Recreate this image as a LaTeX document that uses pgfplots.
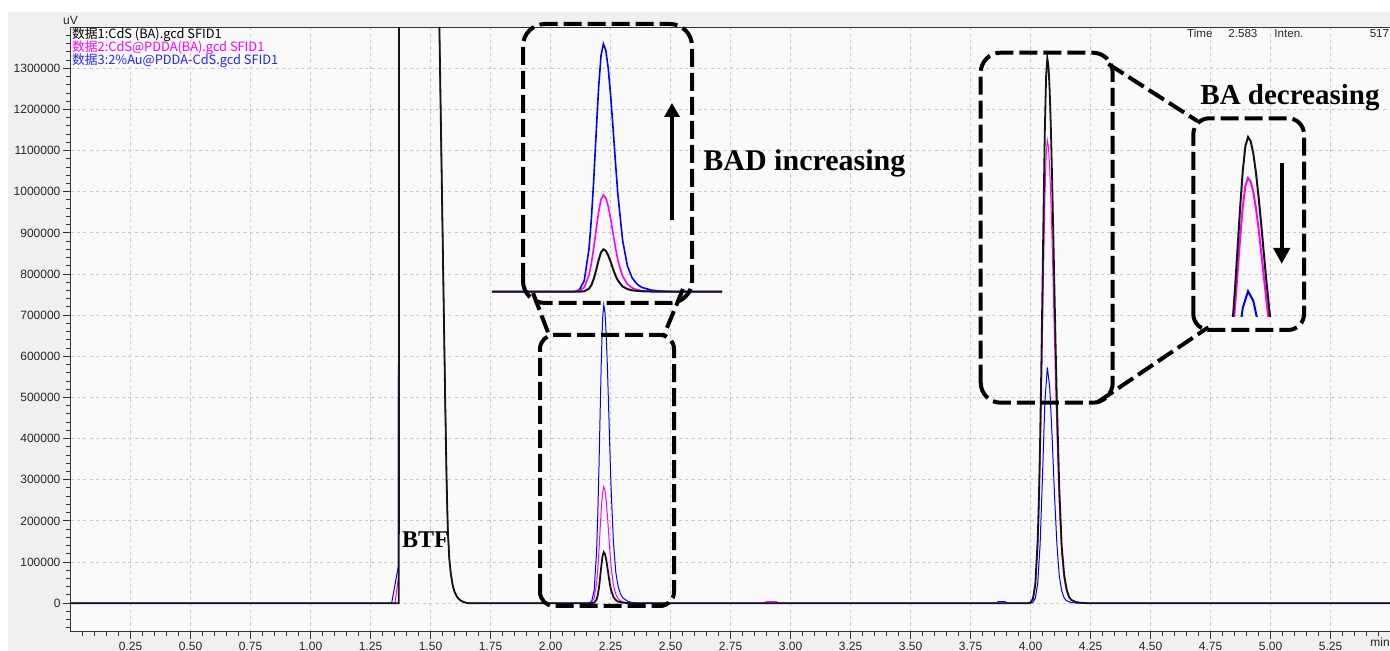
\documentclass[border=0pt]{standalone}
\usepackage{fontspec}
\setmainfont{Liberation Sans}
\newfontfamily\annfont{Liberation Serif}
\newfontfamily\cjk{Noto Sans CJK SC}
\usepackage{pgfplots}
\usepackage{pgfplotstable}
\pgfplotsset{compat=1.18}
\usetikzlibrary{arrows.meta}

\definecolor{panel}{HTML}{F0F0F0}
\definecolor{plotbg}{HTML}{FAFAFA}
\definecolor{gridc}{HTML}{C8C8C8}
\definecolor{cblue}{HTML}{0000FF}
\definecolor{cmag}{HTML}{FF00FF}
\definecolor{cblk}{HTML}{151515}

% 数据1: CdS (BA)
\pgfplotstableread{
x y
0 0
1.368 0
1.369 1600000
1.535 1600000
1.537 1400000
1.545 1100000
1.553 800000
1.561 500000
1.567 300000
1.572 180000
1.578 110000
1.585 70000
1.593 42000
1.600 28000
1.610 16000
1.620 9000
1.630 5000
1.640 2500
1.650 800
1.660 0
2.172 0
2.182 1100
2.192 8700
2.197 19500
2.202 38000
2.207 63700
2.212 92200
2.217 115200
2.222 124000
2.227 119300
2.232 106300
2.237 87600
2.242 66900
2.247 47300
2.252 33000
2.262 15000
2.272 7500
2.282 3800
2.302 1200
2.332 0
3.990 0
4.000 1800
4.010 10600
4.020 46000
4.030 154500
4.035 256000
4.040 396000
4.045 572600
4.050 774500
4.055 979400
4.060 1158600
4.065 1281000
4.070 1325000
4.075 1304500
4.080 1244000
4.085 1151000
4.090 1032000
4.095 897000
4.100 755000
4.105 616000
4.110 487500
4.120 277700
4.130 139600
4.140 70000
4.150 35000
4.160 16000
4.170 8000
4.190 2500
4.220 500
4.240 0
5.510 0
}\blackdata

% 数据2: CdS@PDDA (BA)
\pgfplotstableread{
x y
0 0
1.352 0
1.366 60000
1.368 1600000
1.535 1600000
1.537 1400000
1.545 1100000
1.553 800000
1.561 500000
1.567 300000
1.572 180000
1.578 110000
1.585 70000
1.593 42000
1.600 28000
1.610 16000
1.620 9000
1.630 5000
1.640 2500
1.650 800
1.660 0
2.162 0
2.172 2100
2.182 12400
2.192 48700
2.197 83500
2.202 129600
2.207 182500
2.212 232900
2.217 269400
2.222 283000
2.227 274300
2.232 249700
2.237 213600
2.242 171600
2.247 129600
2.252 92000
2.262 45000
2.272 22000
2.282 11000
2.292 5500
2.302 3000
2.322 1000
2.352 0
2.890 0
2.900 4000
2.940 4000
2.950 0
3.990 0
4.000 1500
4.010 9000
4.020 39000
4.030 131000
4.035 217000
4.040 336000
4.045 486000
4.050 657500
4.055 831500
4.060 983700
4.065 1087600
4.070 1125000
4.075 1107500
4.080 1056000
4.085 977000
4.090 876000
4.095 761500
4.100 641000
4.105 523000
4.110 414000
4.120 235800
4.130 118500
4.140 59400
4.150 29700
4.160 13600
4.170 6800
4.190 2100
4.220 400
4.240 0
5.510 0
}\magdata

% 数据3: 2%Au@PDDA-CdS
\pgfplotstableread{
x y
0 0
1.338 0
1.366 90000
1.368 1600000
1.535 1600000
1.537 1400000
1.545 1100000
1.553 800000
1.561 500000
1.567 300000
1.572 180000
1.578 110000
1.585 70000
1.593 42000
1.600 28000
1.610 16000
1.620 9000
1.630 5000
1.640 2500
1.650 800
1.660 0
2.162 0
2.172 5500
2.182 31800
2.192 125000
2.197 214000
2.202 332000
2.207 467500
2.212 596500
2.217 690500
2.222 725000
2.227 706500
2.232 654000
2.237 575000
2.242 479700
2.247 380000
2.252 286000
2.262 150000
2.272 75000
2.282 40000
2.292 22000
2.302 12500
2.322 4500
2.342 1500
2.372 0
2.890 0
2.900 3000
2.940 3000
2.950 0
3.860 0
3.865 4000
3.895 4000
3.900 0
4.000 0
4.010 2200
4.020 12000
4.030 48500
4.040 142900
4.050 309000
4.060 491000
4.070 573000
4.080 525400
4.090 405000
4.100 262400
4.110 142800
4.120 65500
4.130 30000
4.140 13000
4.150 6000
4.170 1500
4.200 0
5.510 0
}\bluedata

\begin{document}
\begin{tikzpicture}
% window panel
\fill[white] (-35.25pt,-9.5pt) rectangle (659.75pt,316pt);
\fill[panel] (-31.1pt,-9.5pt) rectangle (659.75pt,310pt);
\useasboundingbox (-35.25pt,-9.5pt) rectangle (659.75pt,316pt);

% main chromatogram
\begin{axis}[
  at={(0pt,0pt)}, anchor=south west,
  scale only axis, width=661.2pt, height=302.4pt,
  xmin=0, xmax=5.51, ymin=-70000, ymax=1400000,
  axis background/.style={fill=plotbg},
  axis line style={black!80, line width=0.5pt},
  xtick={0.25,0.5,0.75,1,1.25,1.5,1.75,2,2.25,2.5,2.75,3,3.25,3.5,3.75,4,4.25,4.5,4.75,5,5.25},
  ytick={0,100000,...,1300000},
  minor xtick={0.05,0.10,...,5.50},
  minor ytick={-60000,-40000,...,1380000},
  xtick pos=bottom, ytick pos=left,
  tick align=outside,
  major tick length=3.5pt, minor tick length=2pt,
  tick style={black!80, line width=0.5pt},
  grid=major,
  major grid style={gridc, line width=0.5pt, dash pattern=on 1.6pt off 1.6pt},
  scaled x ticks=false, scaled y ticks=false,
  /pgf/number format/assume math mode=true,
  tick label style={font=\fontsize{6}{7}\selectfont, text=black!85},
  xticklabel style={yshift=2pt, /pgf/number format/.cd, fixed, fixed zerofill, precision=2},
  yticklabel style={xshift=2pt, /pgf/number format/.cd, fixed, 1000 sep={}},
]
\addplot[cblue, line width=0.5pt] table {\bluedata};
\addplot[cmag, line width=0.5pt] table {\magdata};
\addplot[cblk, line width=0.9pt] table {\blackdata};
\end{axis}

% magnified view of the BAD peak
\begin{axis}[
  at={(210.75pt,166.75pt)}, anchor=south west,
  scale only axis, width=115pt, height=140.1pt,
  xmin=1.990, xmax=2.469, ymin=-20000, ymax=800000,
  hide axis,
]
\addplot[cblue, line width=0.8pt] table {\bluedata};
\addplot[cmag, line width=0.8pt] table {\magdata};
\addplot[cblk, line width=1pt] table {\blackdata};
\end{axis}

% magnified view of the BA peak top
\begin{axis}[
  at={(570.27pt,157.5pt)}, anchor=south west,
  scale only axis, width=36.96pt, height=97.68pt,
  xmin=4.0, xmax=4.14, ymin=447000, ymax=1400000,
  hide axis,
]
\addplot[cblue, line width=1pt] table {\bluedata};
\addplot[cmag, line width=1pt] table {\magdata};
\addplot[cblk, line width=1pt] table {\blackdata};
\end{axis}

% zoom frames
\begin{scope}[line width=2pt, dash pattern=on 9pt off 3pt]
  \draw[rounded corners=11pt] (226.25pt,164.5pt) rectangle (310.75pt,304pt);
  \draw[rounded corners=7pt] (234.75pt,13pt) rectangle (301.75pt,148.5pt);
  \draw (231.25pt,169.5pt) -- (239.25pt,148.5pt);
  \draw (306.25pt,171.5pt) -- (296.75pt,148.5pt);
  \draw[rounded corners=10pt] (455.1pt,114.65pt) rectangle (521.1pt,289.65pt);
  \draw[rounded corners=8pt] (561.4pt,151pt) rectangle (616.75pt,256.85pt);
  \draw (518.9pt,284pt) -- (563.4pt,255.5pt);
  \draw (513.9pt,115.15pt) -- (568.9pt,152.35pt);
\end{scope}

% trend arrows
\draw[line width=2pt, -{Triangle[length=7pt,width=7.5pt]}] (300.75pt,206pt) -- (300.75pt,264.5pt);
\draw[line width=2pt, -{Triangle[length=8pt,width=8pt]}] (605.6pt,234.35pt) -- (605.6pt,184pt);

% annotations
\node[anchor=base west, inner sep=0pt, font={\annfont\bfseries\fontsize{15}{18}\selectfont}] at (316.25pt,230.65pt) {BAD increasing};
\node[anchor=base west, inner sep=0pt, font={\annfont\bfseries\fontsize{14.5}{17}\selectfont}] at (564.75pt,263.85pt) {BA decreasing};
\node[anchor=base west, inner sep=0pt, font={\annfont\bfseries\fontsize{12}{14}\selectfont}] at (165.6pt,42.15pt) {BTF};

% file list
\begin{scope}[inner sep=0pt, font={\cjk\fontsize{6.4}{7}\selectfont}]
  \node[anchor=base west, text=black] at (0.6pt,296.85pt) {数据1:CdS (BA).gcd SFID1};
  \node[anchor=base west, text=cmag] at (0.6pt,290.15pt) {数据2:CdS@PDDA(BA).gcd SFID1};
  \node[anchor=base west, text=cblue!85!white] at (0.6pt,283.5pt) {数据3:2\%Au@PDDA-CdS.gcd SFID1};
\end{scope}

% cursor readout and units
\begin{scope}[font=\fontsize{5.8}{7}\selectfont, inner sep=0pt, text=black!85]
  \node[anchor=base west] at (558.1pt,297pt) {Time};
  \node[anchor=base west] at (578.75pt,297pt) {2.583};
  \node[anchor=base west] at (601.75pt,297pt) {Inten.};
  \node[anchor=base east] at (659.5pt,297pt) {517};
  \node[anchor=base] at (0pt,303.5pt) {\fontsize{6}{7}\selectfont uV};
  \node[anchor=base] at (654.75pt,-7.5pt) {\fontsize{6}{7}\selectfont min};
\end{scope}
\end{tikzpicture}
\end{document}
